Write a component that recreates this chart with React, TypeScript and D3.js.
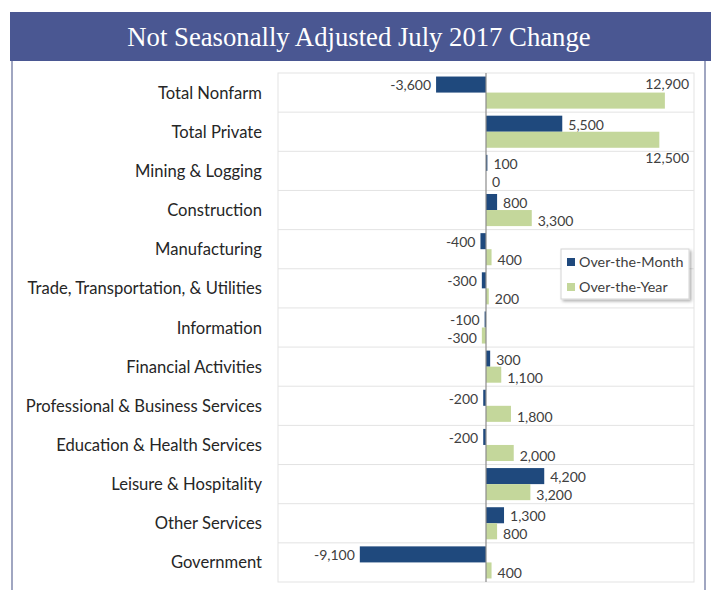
import React from "react";
import * as d3 from "d3";

const width = 711;
const height = 590;
const plot = { left: 278, right: 694, top: 73, bottom: 582 };

const categories = [
  "Total Nonfarm",
  "Total Private",
  "Mining & Logging",
  "Construction",
  "Manufacturing",
  "Trade, Transportation, & Utilities",
  "Information",
  "Financial Activities",
  "Professional & Business Services",
  "Education & Health Services",
  "Leisure & Hospitality",
  "Other Services",
  "Government",
];
const overTheMonth = [-3600, 5500, 100, 800, -400, -300, -100, 300, -200, -200, 4200, 1300, -9100];
const overTheYear = [12900, 12500, 0, 3300, 400, 200, -300, 1100, 1800, 2000, 3200, 800, 400];
const seriesNames = ["Over-the-Month", "Over-the-Year"];
const xDomain = [-15000, 15000];

const colors = ["#1f497d", "#c4d79b"];
const labelColor = "#404040";
const font = "Lato, 'Open Sans', sans-serif";

export default function App() {
  const x = d3.scaleLinear().domain(xDomain).range([plot.left, plot.right]);
  const y = d3.scaleBand().domain(categories).range([plot.top, plot.bottom]).padding(0);
  const inner = d3
    .scaleBand()
    .domain(seriesNames)
    .range([0, y.bandwidth()])
    .paddingInner(0)
    .paddingOuter(0.22);
  // plain hyphen for negatives, like the source
  const fmt = (v: number) => d3.format(",")(v).replace("\u2212", "-");
  const x0 = x(0);
  const bh = inner.bandwidth();

  // guess text width to know when a label runs past the plot
  const textW = (s: string) => s.length * 7.6;

  const bars: any[] = [];
  const labels: any[] = [];
  categories.forEach((c, i) => {
    [overTheMonth[i], overTheYear[i]].forEach((v, s) => {
      const top = y(c)! + inner(seriesNames[s])!;
      const end = x(v);
      bars.push({
        key: c + s,
        x: Math.min(end, x0),
        y: top,
        w: Math.abs(end - x0),
        fill: colors[s],
      });
      const txt = fmt(v);
      let lx = v < 0 ? end - 5 : end + 6;
      let anchor = v < 0 ? "end" : "start";
      let ly = top + bh / 2 + (s === 1 ? 3 : 1);
      if (v >= 0 && lx + textW(txt) > plot.right) {
        // no room at the bar end: tuck it against the right edge
        lx = plot.right - 5;
        anchor = "end";
        ly = overTheMonth[i] < 0 ? top - bh / 2 : top + bh * 1.5 + 2;
      }
      labels.push({ key: c + s, x: lx, y: ly, anchor, txt });
    });
  });

  const legend = { x: 561, y: 249, w: 128, h: 50 };

  return (
    <svg
      width={width}
      height={height}
      style={{ position: "absolute", left: 0, top: 0, background: "#fff" }}
    >
      <defs>
        <filter id="shadow" x="-10%" y="-10%" width="130%" height="140%">
          <feDropShadow dx="2" dy="2" stdDeviation="1.5" floodColor="#000" floodOpacity="0.3" />
        </filter>
      </defs>
      <rect x={10} y={12} width={width - 10} height={49} fill="#4a5792" />
      <text
        x={359}
        y={46}
        textAnchor="middle"
        fill="#fff"
        fontFamily="'Liberation Serif', 'Times New Roman', serif"
        fontSize={26.7}
      >
        Not Seasonally Adjusted July 2017 Change
      </text>
      <line x1={12} x2={12} y1={61} y2={height} stroke="#8088ad" strokeWidth={1.5} />
      <line x1={705} x2={705} y1={61} y2={height} stroke="#8088ad" strokeWidth={1.5} />

      <rect
        x={plot.left}
        y={plot.top}
        width={plot.right - plot.left}
        height={plot.bottom - plot.top}
        fill="none"
        stroke="#e3e3e3"
      />
      {categories.slice(1).map((c) => (
        <line key={c} x1={plot.left} x2={plot.right} y1={y(c)} y2={y(c)} stroke="#e3e3e3" />
      ))}

      {categories.map((c) => (
        <text
          key={c}
          x={262}
          y={y(c)! + y.bandwidth() / 2 + 6}
          textAnchor="end"
          fontFamily={font}
          fontSize={16.6}
          fill="#262626"
        >
          {c}
        </text>
      ))}

      {bars.map((b) => (
        <rect key={b.key} x={b.x} y={b.y} width={b.w} height={bh} fill={b.fill} />
      ))}
      <line x1={x0} x2={x0} y1={plot.top} y2={plot.bottom} stroke="#8c8c8c" strokeWidth={1.2} />

      {labels.map((l) => (
        <text
          key={l.key}
          x={l.x}
          y={l.y}
          dy="0.35em"
          textAnchor={l.anchor}
          fontFamily={font}
          fontSize={14}
          fill={labelColor}
        >
          {l.txt}
        </text>
      ))}

      <g transform={`translate(${legend.x},${legend.y})`}>
        <rect
          width={legend.w}
          height={legend.h}
          fill="#fff"
          stroke="#d4d4d4"
          filter="url(#shadow)"
        />
        {seriesNames.map((s, i) => (
          <g key={s} transform={`translate(6,${13 + i * 25})`}>
            <rect x={0} y={-4} width={8} height={8} fill={colors[i]} />
            <text x={12} y={0} dy="0.35em" fontFamily={font} fontSize={14.3} fill={labelColor}>
              {s}
            </text>
          </g>
        ))}
      </g>
    </svg>
  );
}
